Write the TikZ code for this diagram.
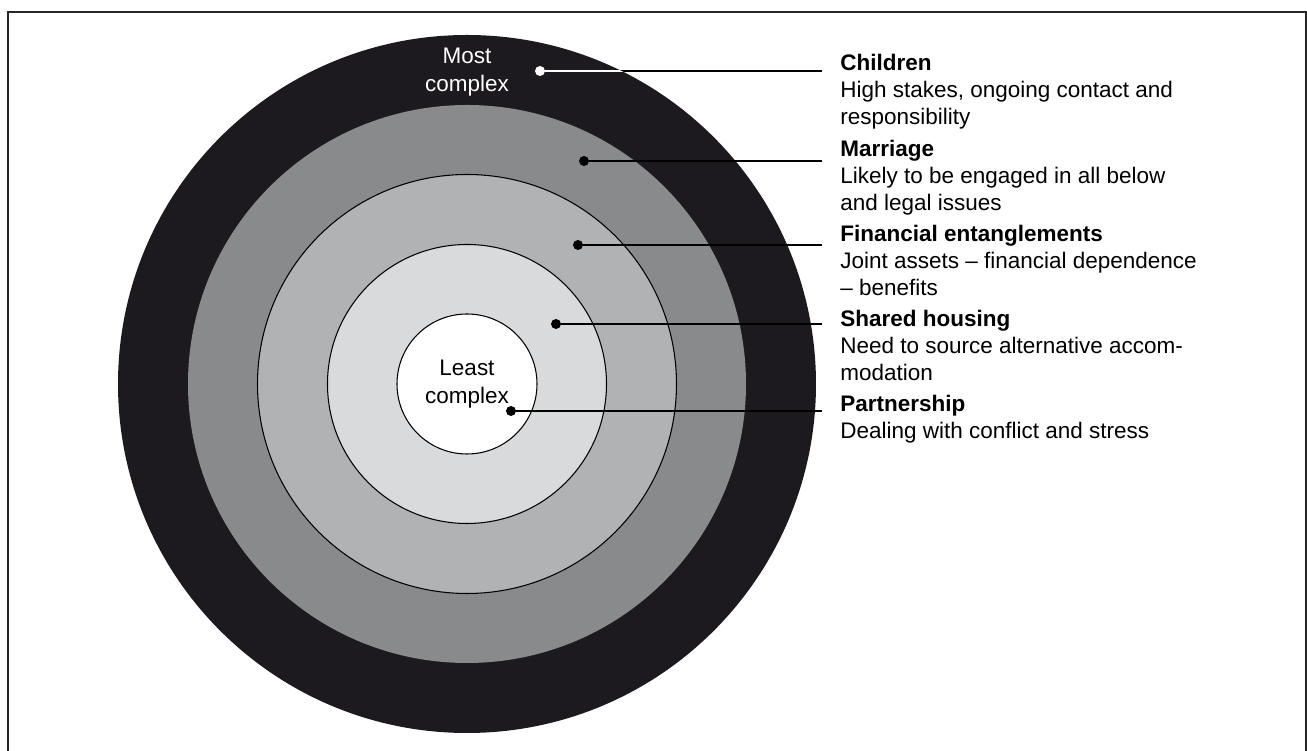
\documentclass[tikz,border=0pt]{standalone}
\usepackage{fontspec}
\setmainfont{Liberation Sans}
\usepackage{tikz}
\usetikzlibrary{positioning,calc}
\usepackage{xcolor}
\definecolor{ringA}{HTML}{1C1A1F}
\definecolor{ringB}{HTML}{898A8C}
\definecolor{ringC}{HTML}{B1B2B4}
\definecolor{ringD}{HTML}{D9DADC}

\begin{document}
\begin{tikzpicture}[
    tipdot/.style={circle, fill=black, minimum size=0.2cm, inner sep=0pt},
    conn/.style={line width=0.04cm},
    lbl/.style={anchor=base west, align=left, inner xsep=0.36cm, inner ysep=0pt,
                font=\fontsize{12.8}{15.4}\selectfont},
    ringtxt/.style={align=center, font=\fontsize{12.8}{15.9}\selectfont}
  ]
    \useasboundingbox (-9.34,-7.34) rectangle (16.80,7.68);

    % Outer frame (bottom edge runs off the page)
    \draw[line width=0.04cm, black!85] (-9.18,-7.6) -- (-9.18,7.44) -- (16.77,7.44) -- (16.77,-7.6);

    % Rings, outermost first
    \fill[ringA] (0,0) circle (6.98);
    \fill[ringB] (0,0) circle (5.58);
    \draw[line width=0.6pt, fill=ringC] (0,0) circle (4.19);
    \draw[line width=0.6pt, fill=ringD] (0,0) circle (2.79);
    \draw[line width=0.6pt, fill=white] (0,0) circle (1.40);

    % Ring texts
    \node[ringtxt, text=white] (most) at (0,6.24) {Most\\complex};
    \node[ringtxt] (least) at (0,0.0) {Least\\complex};

    % Dots on the rings
    \node[tipdot, fill=white] (dchi) at (1.46,6.26) {};
    \node[tipdot] (dmar) at (2.34,4.46) {};
    \node[tipdot] (dfin) at (2.22,2.78) {};
    \node[tipdot] (dhou) at (1.78,1.20) {};
    \node[tipdot] (dpar) at (0.88,-0.54) {};

    % Labels - column on the right (base = last line)
    \node[lbl] (chi) at (7.10,5.18) {\textbf{Children}\\High stakes, ongoing contact and\\responsibility};
    \node[lbl] (mar) at (7.10,3.475) {\textbf{Marriage}\\Likely to be engaged in all below\\and legal issues};
    \node[lbl] (fin) at (7.10,1.77) {\textbf{Financial entanglements}\\Joint assets -- financial dependence\\-- benefits};
    \node[lbl] (hou) at (7.10,0.065) {\textbf{Shared housing}\\Need to source alternative accom-\\modation};
    \node[lbl] (par) at (7.10,-1.10) {\textbf{Partnership}\\Dealing with conflict and stress};

    % Leader lines
    \draw[conn] (dchi) -- (dchi -| chi.base west);
    \begin{scope}
        \clip (0,0) circle (6.98);
        \draw[conn, white] (dchi) -- (dchi -| chi.base west);
    \end{scope}
    \draw[conn] (dmar) -- (dmar -| mar.base west);
    \draw[conn] (dfin) -- (dfin -| fin.base west);
    \draw[conn] (dhou) -- (dhou -| hou.base west);
    \draw[conn] (dpar) -- (dpar -| par.base west);
\end{tikzpicture}
\end{document}
